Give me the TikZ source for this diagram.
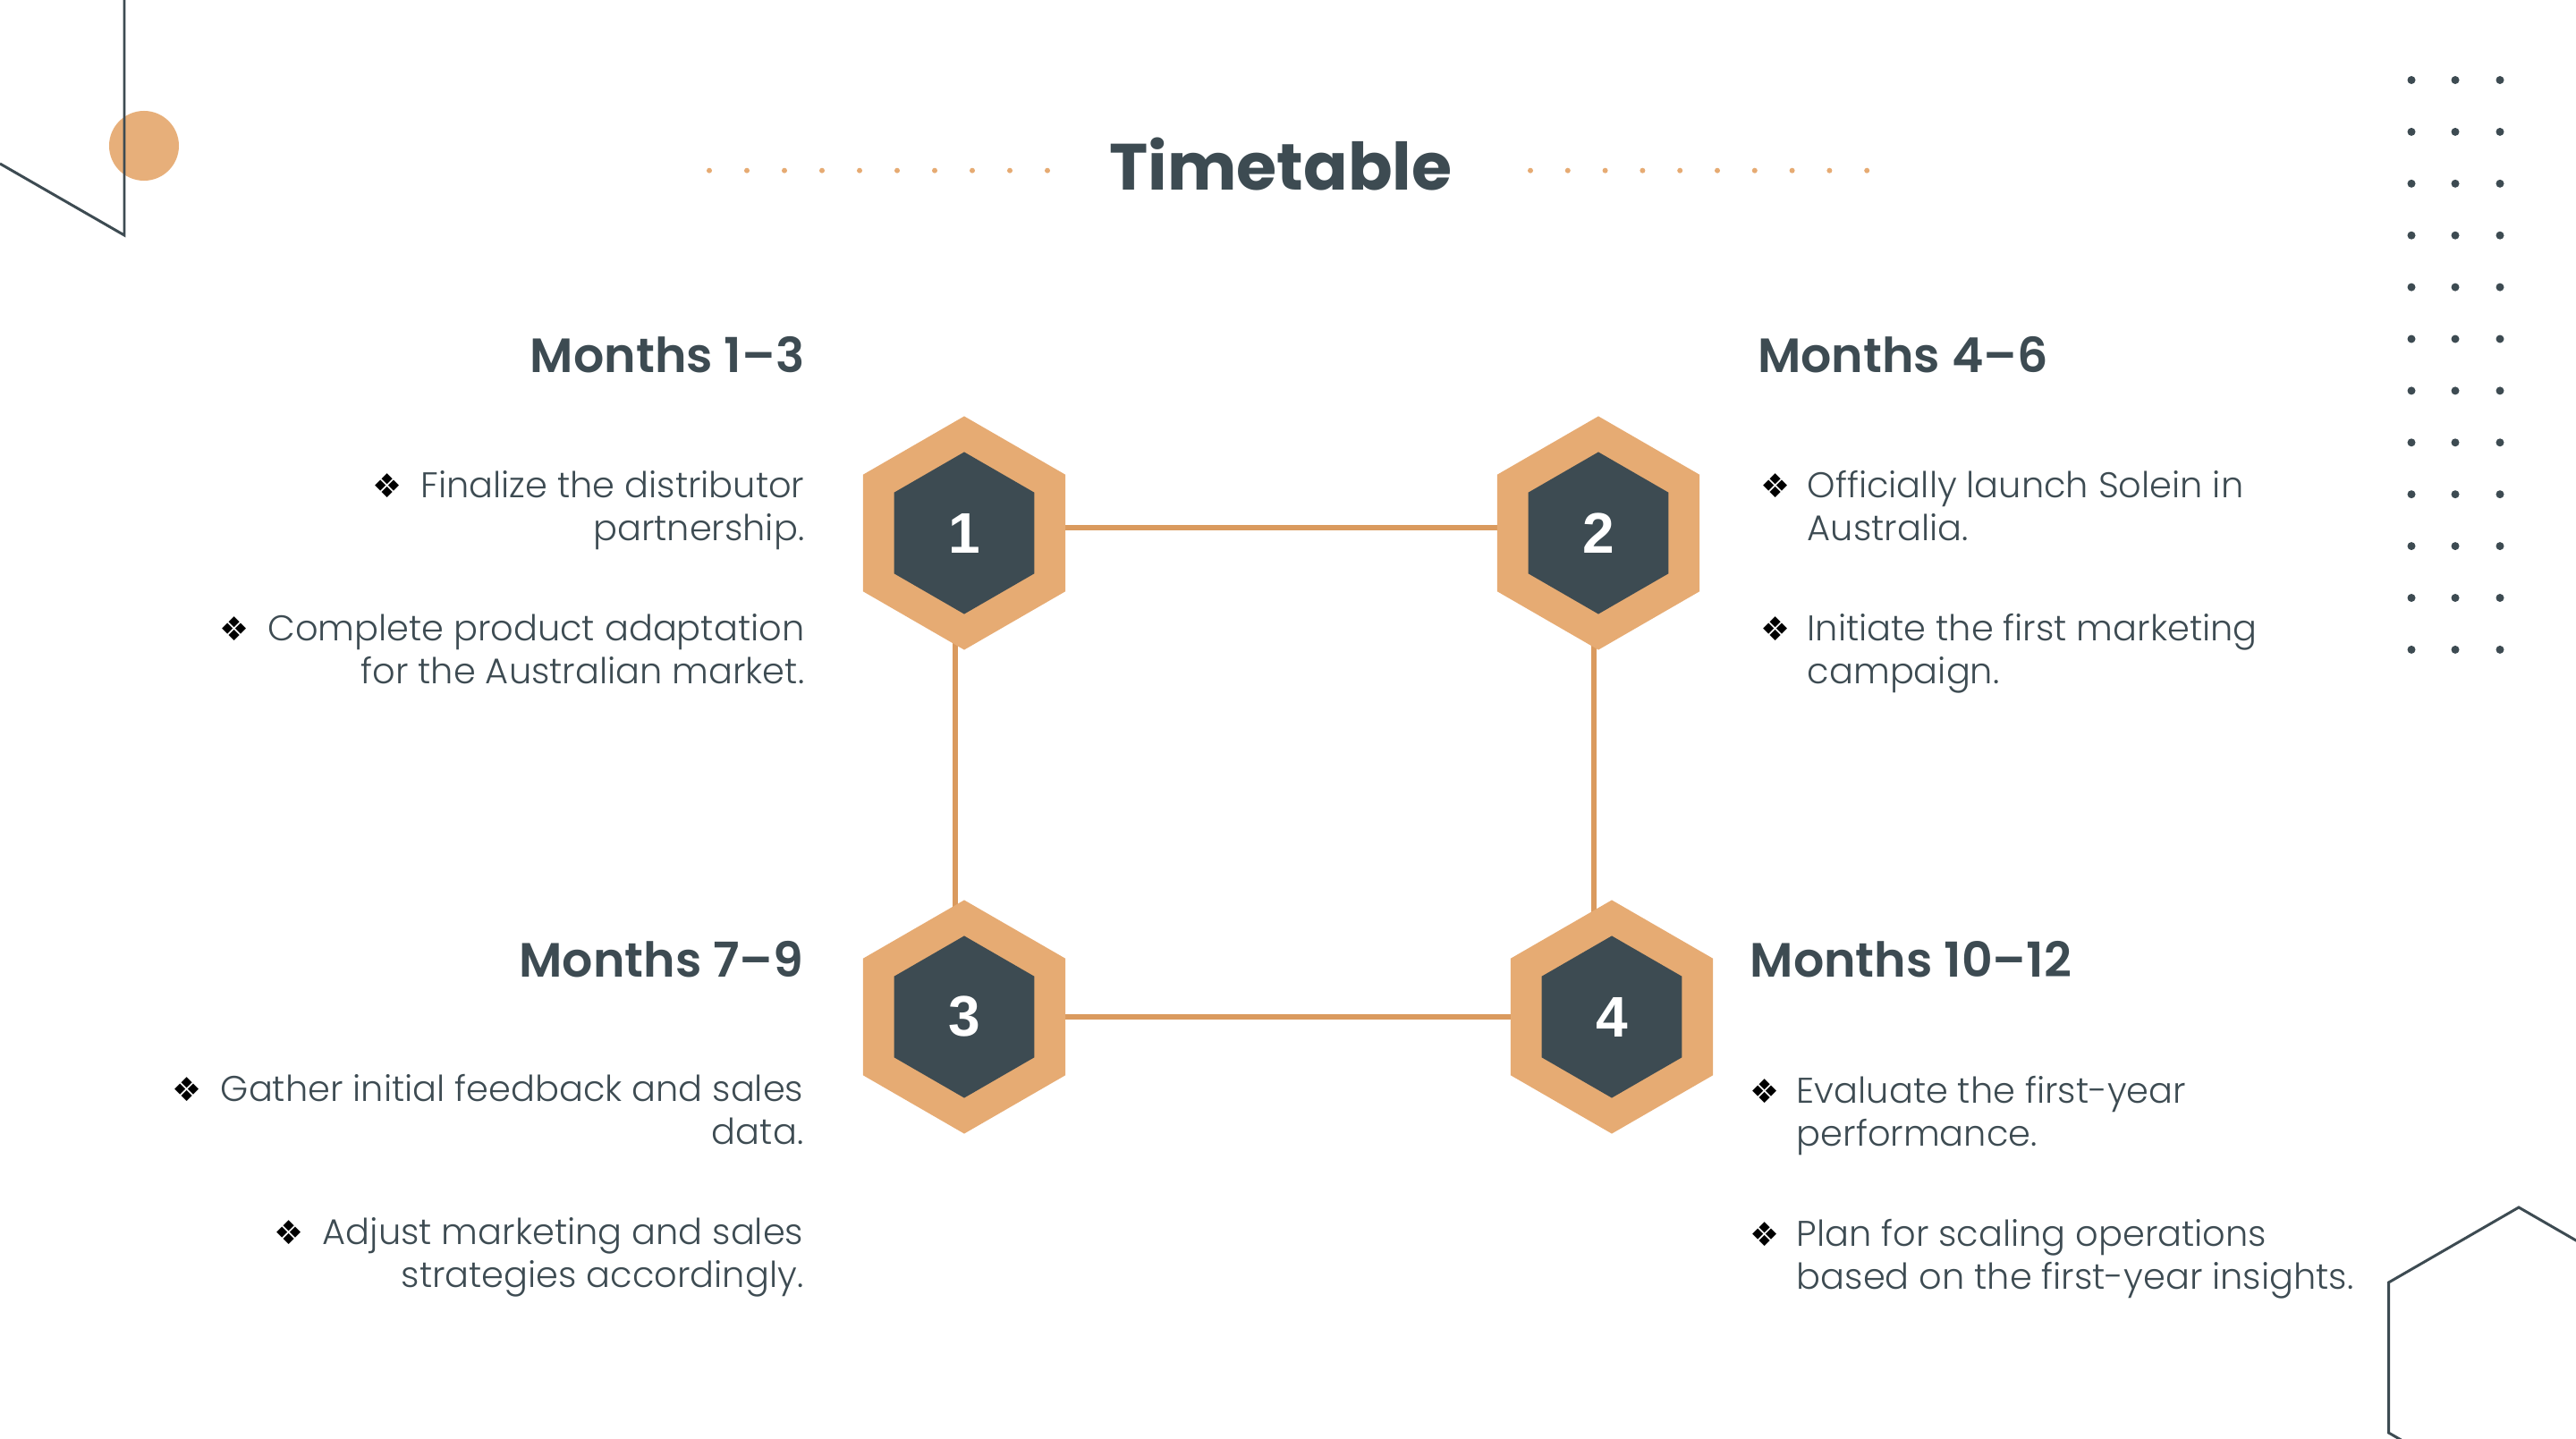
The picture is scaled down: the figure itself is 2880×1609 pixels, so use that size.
\documentclass[tikz,border=0pt]{standalone}
\usepackage{fontspec}
\setmainfont{Poppins}
\newfontfamily\lightfont{Poppins Light}
\newfontfamily\semifont{Poppins SemiBold}
\newfontfamily\numfont{Liberation Sans}
\newfontfamily\symfont{DejaVu Sans}
\usetikzlibrary{shapes.geometric,backgrounds}

\definecolor{slate}{HTML}{3D4B52}
\definecolor{sand}{HTML}{E6AB73}
\definecolor{sandline}{HTML}{DA9A5E}

\newcommand{\bul}{{\symfont\fontsize{10.5}{10.5}\selectfont\color{black}\char"2756}}

\tikzset{
  outerhex/.style={regular polygon, regular polygon sides=6, shape border rotate=30,
    minimum size=2.61cm, inner sep=0pt, fill=sand},
  innerhex/.style={regular polygon, regular polygon sides=6, shape border rotate=30,
    minimum size=1.81cm, inner sep=0pt, fill=slate, text=white,
    font=\numfont\bfseries\fontsize{18.2}{18.2}\selectfont},
  head/.style={text=slate, inner sep=0pt, font=\semifont\fontsize{15.3}{18}\selectfont},
  item/.style={text=slate, inner sep=0pt, font=\lightfont\fontsize{11.35}{13.66}\selectfont},
  link/.style={draw=sandline, line width=1.7pt},
}

\begin{document}
\begin{tikzpicture}[x=0.01cm,y=-0.01cm]
\useasboundingbox (0,0) rectangle (2880,1609);
\clip (0,0) rectangle (2880,1609);

%les decorations
\fill[sand!95!white] (161,163) circle[radius=0.39cm];
\draw[slate, line width=0.85pt] (0,183) -- (139,263) -- (139,0);
\draw[slate, line width=0.85pt] (2816,1518) ++(90:168) -- ++(210:168) -- ++(270:168) -- ++(330:168) -- ++(30:168) -- ++(90:168) -- cycle;
\foreach \r in {0,...,11}
  \foreach \c in {2696,2745,2795}
    \fill[slate] (\c,89.5+57.9*\r) circle[radius=0.045cm];

%le titre
\node[text=slate, anchor=base, font=\bfseries\fontsize{20.8}{24}\selectfont] (title) at (1432,212.7) {Timetable};
\foreach \i in {0,...,9} {
  \fill[sand] (793+42*\i,190.7) circle[radius=0.03cm];
  \fill[sand] (1711+41.8*\i,190.7) circle[radius=0.03cm];
}

%les hexagones
\node[outerhex] (h1o) at (1078,596) {};
\node[innerhex] (h1) at (h1o) {1};
\node[outerhex] (h2o) at (1787,596) {};
\node[innerhex] (h2) at (h2o) {2};
\node[outerhex] (h3o) at (1078,1137) {};
\node[innerhex] (h3) at (h3o) {3};
\node[outerhex] (h4o) at (1802,1137) {};
\node[innerhex] (h4) at (h4o) {4};

%les liens
\begin{pgfonlayer}{background}
\draw[link] ([yshift=0.06cm]h1o.center) -- ([yshift=0.06cm]h2o.center);
\draw[link] ([xshift=-0.1cm]h1o.center) -- ([xshift=-0.1cm]h3o.center);
\draw[link] ([xshift=-0.05cm]h2o.center) -- ([xshift=-0.05cm]h2o.center |- h4o.center);
\draw[link] (h3o.center) -- (h4o.center);
\end{pgfonlayer}

%mois 1-3
\node[head, anchor=base east] (m1) at (900,416.7) {Months 1–3};
\node[item, anchor=base east] (m1a) at (900,556.7) {\begin{tabular}[t]{@{}l@{\hspace{0.21cm}}r@{}}\bul & Finalize the distributor\\ & partnership.\end{tabular}};
\node[item, anchor=base east] (m1b) at (900,716.7) {\begin{tabular}[t]{@{}l@{\hspace{0.21cm}}r@{}}\bul & Complete product adaptation\\ & for the Australian market.\end{tabular}};

%mois 4-6
\node[head, anchor=base west] (m2) at (1964.5,416) {Months 4–6};
\node[item, anchor=base west] (m2a) at (1968,556.7) {\begin{tabular}[t]{@{}l@{\hspace{0.19cm}}l@{}}\bul & Officially launch Solein in\\ & Australia.\end{tabular}};
\node[item, anchor=base west] (m2b) at (1968,716.7) {\begin{tabular}[t]{@{}l@{\hspace{0.19cm}}l@{}}\bul & Initiate the first marketing\\ & campaign.\end{tabular}};

%mois 7-9
\node[head, anchor=base east] (m3) at (899,1092.7) {Months 7–9};
\node[item, anchor=base east] (m3a) at (899,1231.7) {\begin{tabular}[t]{@{}l@{\hspace{0.21cm}}r@{}}\bul & Gather initial feedback and sales\\ & data.\end{tabular}};
\node[item, anchor=base east] (m3b) at (899,1391.7) {\begin{tabular}[t]{@{}l@{\hspace{0.21cm}}r@{}}\bul & Adjust marketing and sales\\ & strategies accordingly.\end{tabular}};

%mois 10-12
\node[head, anchor=base west] (m4) at (1956,1092.7) {Months 10–12};
\node[item, anchor=base west] (m4a) at (1956,1233) {\begin{tabular}[t]{@{}l@{\hspace{0.19cm}}l@{}}\bul & Evaluate the first-year\\ & performance.\end{tabular}};
\node[item, anchor=base west] (m4b) at (1956,1393) {\begin{tabular}[t]{@{}l@{\hspace{0.19cm}}l@{}}\bul & Plan for scaling operations\\ & based on the first-year insights.\end{tabular}};

\end{tikzpicture}
\end{document}
